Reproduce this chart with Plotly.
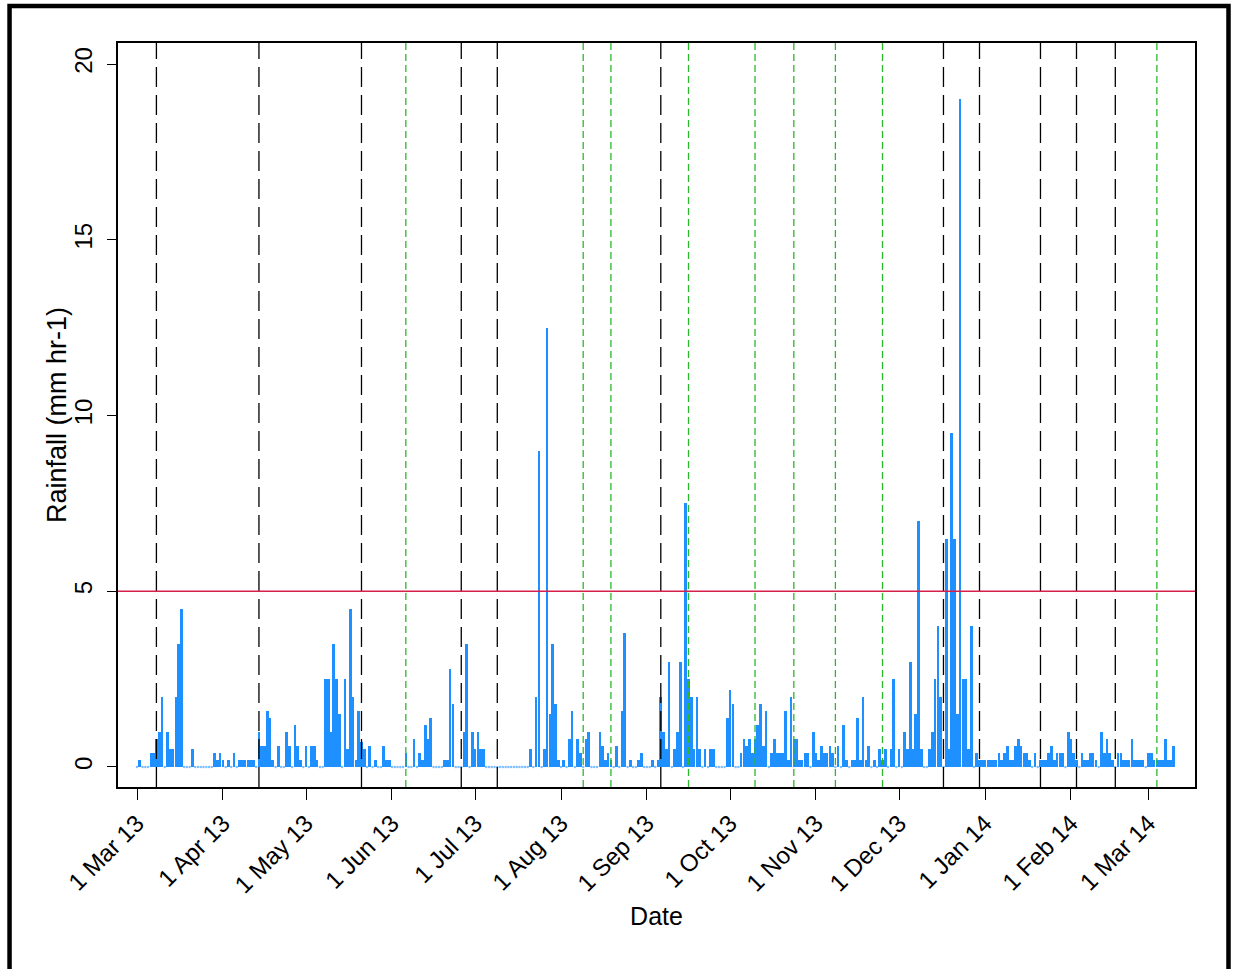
import pandas as pd
import plotly.graph_objects as go

# daily rainfall (mm hr-1), one list per month
start_date = "2013-03-01"
mar13 = [0, 0.2, 0, 0, 0, 0.4, 0.4, 0.8, 1.0, 2.0, 0, 1.0, 0.5, 0.5, 2.0, 3.5,
         4.5, 0, 0, 0, 0.5, 0, 0, 0, 0, 0, 0, 0, 0.4, 0.2, 0.4]
apr13 = [0.2, 0, 0.2, 0, 0.4, 0, 0.2, 0.2, 0.2, 0.2, 0.2, 0.2, 0, 1.0, 0.6,
         0.6, 1.6, 1.4, 0.2, 0, 0.6, 0, 0, 1.0, 0.6, 0, 1.2, 0.6, 0.2, 0]
may13 = [0.6, 0, 0.6, 0.6, 0.2, 0, 0, 2.5, 2.5, 1.0, 3.5, 2.5, 1.5, 0, 2.5, 0.5,
         4.5, 2.0, 0.2, 1.6, 0.7, 0.5, 0, 0.6, 0, 0.2, 0, 0, 0.6, 0.2, 0.2]
jun13 = [0, 0, 0, 0, 0, 0.4, 0, 0, 0.8, 0, 0.4, 0.2, 1.2, 0.8, 1.4, 0, 0, 0, 0,
         0.2, 0.2, 2.8, 1.8, 0, 0, 0, 1.0, 3.5, 0, 1.0]
jul13 = [0.5, 1.0, 0.5, 0.5, 0, 0, 0, 0, 0, 0, 0, 0, 0, 0, 0, 0, 0, 0, 0, 0,
         0.5, 0, 2.0, 9.0, 0, 0.5, 12.5, 1.5, 3.5, 1.8, 0.2]
aug13 = [0, 0.2, 0, 0.8, 1.6, 0, 0.8, 0.4, 0, 0.8, 1.0, 0, 0, 0, 1.0, 0.6, 0.2,
         0.4, 0.2, 0, 0.6, 0, 1.6, 3.8, 0, 0.2, 0, 0, 0.2, 0.4, 0]
sep13 = [0, 0, 0.2, 0, 0.2, 2.0, 1.0, 0.5, 3.0, 0, 0.5, 1.0, 3.0, 0, 7.5, 2.5,
         2.0, 0.5, 2.0, 0.5, 0, 0.5, 0, 0.5, 0.5, 0, 0, 0, 0, 1.4]
oct13 = [2.2, 1.8, 0, 0, 0.4, 0.8, 0.6, 0.8, 0.4, 0.8, 1.2, 1.8, 0.6, 1.6, 0,
         0.4, 0.8, 0.4, 0.4, 0.4, 1.6, 0.2, 2.0, 0.8, 0.8, 0.2, 0.2, 0.4, 0.4, 0, 1.0]
nov13 = [0.4, 0.2, 0.6, 0.4, 0.4, 0.6, 0.4, 0, 0.6, 0, 1.2, 0.2, 0, 0.2, 0.2,
         1.4, 0.2, 2.0, 0.2, 0.6, 0, 0.2, 0, 0.5, 0.2, 0.5, 0, 0.5, 2.5, 0]
dec13 = [0.5, 0, 1.0, 0.5, 3.0, 0.5, 1.5, 7.0, 0.5, 0, 0, 0.5, 1.0, 2.5, 4.0,
         2.0, 0, 6.5, 0.5, 9.5, 6.5, 1.5, 19.0, 2.5, 2.5, 0.5, 4.0, 0, 0.4, 0.2, 0.2]
jan14 = [0.2, 0.2, 0.2, 0.2, 0.2, 0.4, 0.2, 0.4, 0.6, 0.2, 0.2, 0.6, 0.8, 0.6,
         0.4, 0.4, 0.2, 0, 0.4, 0, 0.2, 0.2, 0.2, 0.4, 0.6, 0.2, 0.4, 0.4, 0.4, 0, 1.0]
feb14 = [0.8, 0.4, 0.2, 0, 0.4, 0.2, 0.2, 0.4, 0.4, 0.2, 0, 1.0, 0.4, 0.8, 0.4,
         0.2, 0, 0.4, 0.4, 0.2, 0.2, 0.2, 0.8, 0.2, 0.2, 0.2, 0.2, 0]
mar14 = [0.4, 0.4, 0.2, 0.2, 0.2, 0.2, 0.8, 0.2, 0.2, 0.6]

# event dates marked with vertical lines
black_events = ["2013-03-08", "2013-04-14", "2013-05-21", "2013-06-26", "2013-07-09",
                "2013-09-06", "2013-12-17", "2013-12-30", "2014-01-21", "2014-02-03",
                "2014-02-17"]
green_events = ["2013-06-06", "2013-08-09", "2013-08-19", "2013-09-16", "2013-10-10",
                "2013-10-24", "2013-11-08", "2013-11-25", "2014-03-04"]
threshold = 5

tick_dates = ["2013-03-01", "2013-04-01", "2013-05-01", "2013-06-01", "2013-07-01",
              "2013-08-01", "2013-09-01", "2013-10-01", "2013-11-01", "2013-12-01",
              "2014-01-01", "2014-02-01", "2014-03-01"]
tick_labels = ["1 Mar 13", "1 Apr 13", "1 May 13", "1 Jun 13", "1 Jul 13", "1 Aug 13",
               "1 Sep 13", "1 Oct 13", "1 Nov 13", "1 Dec 13", "1 Jan 14", "1 Feb 14",
               "1 Mar 14"]
y_ticks = [0, 5, 10, 15, 20]

rainfall = mar13 + apr13 + may13 + jun13 + jul13 + aug13 + sep13 + oct13 + nov13 + dec13 + jan14 + feb14 + mar14
df = pd.DataFrame({"date": pd.date_range(start_date, periods=len(rainfall), freq="D"),
                   "rain": rainfall})
dry = df[df["rain"] == 0]

DAY_MS = 86400000
BLUE = "#1E90FF"

fig = go.Figure()

# zero days show as little dots on the baseline
fig.add_trace(go.Scatter(x=dry["date"], y=dry["rain"], mode="markers",
                         marker=dict(color="#7fbfff", size=2.5), hoverinfo="skip"))
fig.add_trace(go.Bar(x=df["date"], y=df["rain"], width=0.95 * DAY_MS,
                     marker_color=BLUE, marker_line_width=0))

for d in black_events:
    fig.add_shape(type="line", xref="x", yref="paper", x0=d, x1=d, y0=0, y1=1,
                  line=dict(color="black", width=1.3, dash="20px,8px"))
for d in green_events:
    fig.add_shape(type="line", xref="x", yref="paper", x0=d, x1=d, y0=0, y1=1,
                  line=dict(color="#2cb82c", width=1.3, dash="7px,4px"))

fig.add_shape(type="line", xref="paper", yref="y", x0=0, x1=1, y0=threshold, y1=threshold,
              line=dict(color="#d6204b", width=1.5))

# outer frame around the whole figure
fig.add_shape(type="rect", xref="paper", yref="paper", x0=-0.1007, x1=1.0311,
              y0=-0.26, y1=1.0497, line=dict(color="black", width=4.5))

fig.add_annotation(text="Rainfall (mm hr-1)", xref="paper", yref="paper",
                   x=-0.0566, y=0.5, xanchor="center", yanchor="middle",
                   textangle=-90, showarrow=False, font=dict(size=27))

fig.update_layout(width=1237, height=969,
                  margin=dict(l=118, r=42, t=43, b=182),
                  plot_bgcolor="white", paper_bgcolor="white",
                  showlegend=False, bargap=0,
                  font=dict(family="Liberation Sans, Arial", color="black"))

fig.update_xaxes(type="date", range=["2013-02-22 03:20", "2014-03-17 18:15"],
                 tickvals=tick_dates, ticktext=tick_labels, tickangle=-45,
                 ticks="outside", ticklen=11, tickcolor="black", tickwidth=1,
                 showline=True, mirror=True, linecolor="black", linewidth=1.5,
                 showgrid=False, zeroline=False, tickfont=dict(size=24),
                 title=dict(text="Date", font=dict(size=25), standoff=10),
                 automargin=False)
fig.update_yaxes(range=[-0.57, 20.6], tickvals=y_ticks, tickangle=-90,
                 ticks="outside", ticklen=9, tickcolor="black", tickwidth=1,
                 showline=True, mirror=True, linecolor="black", linewidth=1.5,
                 showgrid=False, zeroline=False, tickfont=dict(size=24),
                 ticklabelstandoff=6, automargin=False)

# drop the default 8px page margin so the figure fills the window
fig.write_html("out.html", config={"displayModeBar": False},
               post_script="document.body.style.margin = '0';")
